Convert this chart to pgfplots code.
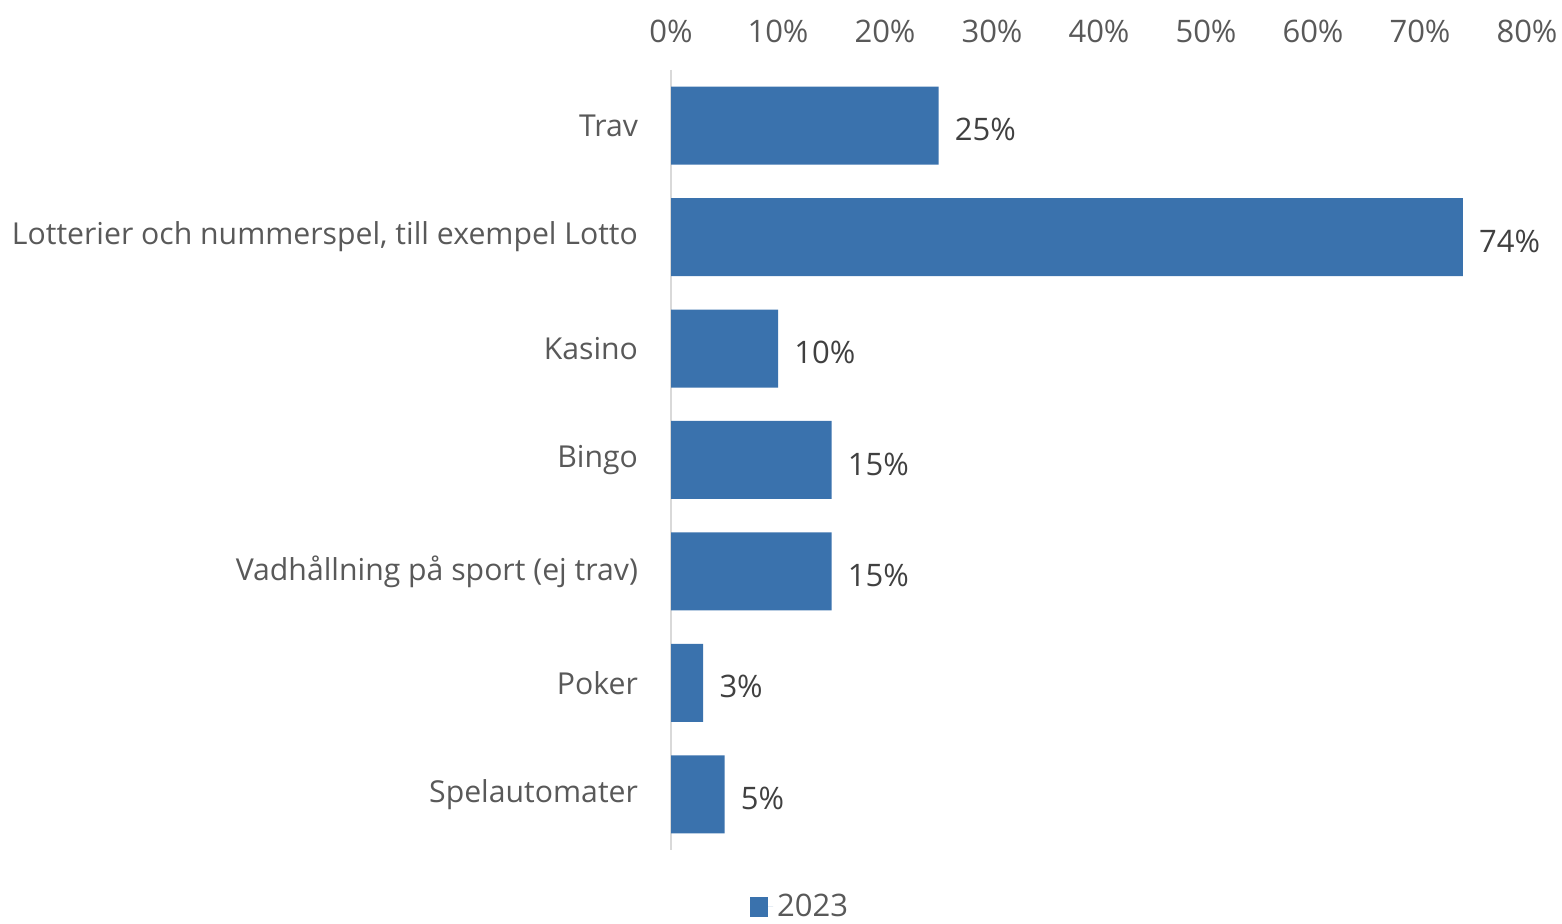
\documentclass[border=0pt]{standalone}
\usepackage{pgfplots}
\pgfplotsset{compat=1.18}
\usepackage{fontspec}
\setmainfont{Open Sans}
\definecolor{barblue}{HTML}{3A72AD}
\definecolor{ticktext}{HTML}{595959}
\definecolor{labeltext}{HTML}{404040}
\definecolor{axisgray}{HTML}{D9D9D9}
\newcommand{\chartfont}{\fontsize{15.5}{18}\selectfont}

\begin{document}
\begin{tikzpicture}
\begin{axis}[
    xbar,
    width=428pt,
    height=390pt,
    scale only axis,
    xmin=0, xmax=80,
    ymin=-0.5, ymax=6.5,
    y dir=reverse,
    bar width=39pt,
    axis x line*=top,
    axis y line*=left,
    x axis line style={draw=none},
    y axis line style={draw=axisgray, line width=0.8pt},
    major tick length=0pt,
    xtick={0,10,...,80},
    xticklabel={\pgfmathprintnumber{\tick}\%},
    /pgf/number format/assume math mode=true,
    xticklabel style={font=\chartfont, text=ticktext, yshift=10pt},
    ytick={0,...,6},
    yticklabels={Trav, {Lotterier och nummerspel, till exempel Lotto}, Kasino, Bingo, {Vadhållning på sport (ej trav)}, Poker, Spelautomater},
    yticklabel style={font=\fontsize{15.1}{18}\selectfont, text=ticktext, xshift=-13pt},
    nodes near coords={\pgfmathprintnumber{\pgfplotspointmeta}\%},
    nodes near coords style={font=\chartfont, text=labeltext, anchor=west, inner sep=0pt, xshift=8pt, yshift=-2pt},
    legend style={draw=none, at={(0.152,-0.073)}, anchor=center, font=\chartfont, text=ticktext},
    legend image code/.code={
        \fill[barblue] (0pt,-4.8pt) rectangle (9pt,4.8pt);
        \path (0pt,0pt) -- (11.5pt,0pt);
    },
]
\addplot[fill=barblue, draw=none] coordinates {
    (25,0)
    (74,1)
    (10,2)
    (15,3)
    (15,4)
    (3,5)
    (5,6)
};
\addlegendentry{2023}
\coordinate (ll) at (axis description cs:0,0);
\coordinate (ur) at (axis description cs:1,1);
\end{axis}
\pgfresetboundingbox
\path[use as bounding box] ([xshift=-335.5pt, yshift=-37pt]ll) rectangle ([xshift=17.5pt, yshift=35pt]ur);
\end{tikzpicture}
\end{document}
